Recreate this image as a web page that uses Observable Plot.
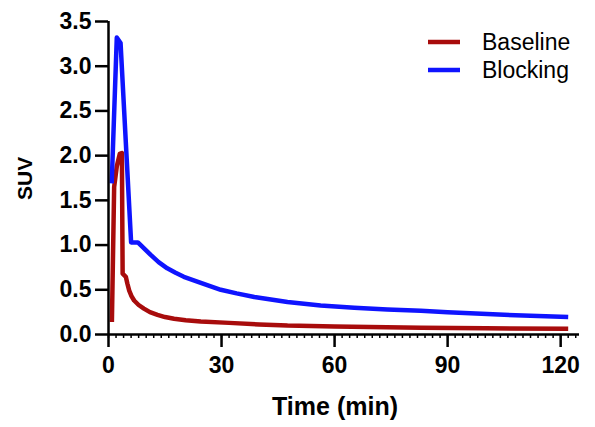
<!DOCTYPE html>
<html>
<head>
<meta charset="utf-8">
<script src="https://cdn.jsdelivr.net/npm/d3@7"></script>
<script src="https://cdn.jsdelivr.net/npm/@observablehq/plot@0.6"></script>
<style>
  html, body { margin: 0; padding: 0; background: #fff; }
  #wrap { position: relative; width: 595px; height: 427px; font-family: "Liberation Sans", Arial, sans-serif; }
  #legend { position: absolute; left: 428px; top: 28px; font-size: 23px; color: #000; }
  #legend .item { display: flex; align-items: center; height: 28px; }
  #legend svg { margin-right: 22px; }
</style>
</head>
<body>
<div id="wrap"><div id="legend"></div></div>
<script>
// Data
const seriesNames = ["Baseline", "Blocking"];
const seriesColors = ["#a80c0c", "#0f14ff"];

const baselineTime = [0.9, 1.5, 2.2, 3.0, 3.55, 3.75, 4.6, 5.0, 5.5, 6.1, 6.8, 8.0, 9.4, 11, 13, 15, 17.4, 20.5, 24.5, 32, 40, 47.5, 60, 83, 100, 122];
const baselineSUV  = [0.14, 1.65, 1.88, 2.02, 2.03, 0.68, 0.645, 0.57, 0.49, 0.43, 0.38, 0.33, 0.29, 0.25, 0.22, 0.195, 0.176, 0.16, 0.146, 0.13, 0.113, 0.10, 0.09, 0.075, 0.07, 0.064];

const blockingTime = [0.85, 2.2, 3.2, 6.0, 7.8, 9.5, 11.2, 13.3, 15.6, 17.8, 20, 24.5, 29.8, 34, 38.7, 47.5, 56.3, 65.2, 74, 82.9, 90, 105, 122];
const blockingSUV  = [1.69, 3.32, 3.26, 1.03, 1.03, 0.96, 0.89, 0.81, 0.74, 0.69, 0.645, 0.576, 0.50, 0.46, 0.42, 0.363, 0.325, 0.30, 0.28, 0.265, 0.25, 0.22, 0.195];

const xTicks = [0, 30, 60, 90, 120];
const xMinorTicks = d3.range(0, 126, 2);
const yTicks = [0, 0.5, 1.0, 1.5, 2.0, 2.5, 3.0, 3.5];

const rows = [
  ...baselineTime.map((t, i) => ({series: seriesNames[0], t, v: baselineSUV[i]})),
  ...blockingTime.map((t, i) => ({series: seriesNames[1], t, v: blockingSUV[i]}))
];

const font = "Liberation Sans, Arial, sans-serif";

const chart = Plot.plot({
  width: 595,
  height: 427,
  marginLeft: 108,
  marginRight: 16,
  marginTop: 21,
  marginBottom: 93,
  style: {fontFamily: font, background: "transparent", overflow: "visible"},
  x: {domain: [0, 125]},
  y: {domain: [0, 3.5]},
  color: {domain: seriesNames, range: seriesColors},
  marks: [
    Plot.axisX({ticks: xMinorTicks, tickSize: 4, tickFormat: () => "", stroke: "#000", strokeWidth: 1.5, label: null}),
    Plot.line(rows, {x: "t", y: "v", stroke: "series", strokeWidth: 4.5, strokeLinejoin: "round", strokeLinecap: "butt"}),
    Plot.ruleY([0], {stroke: "#000", strokeWidth: 2.5}),
    Plot.ruleX([0], {stroke: "#000", strokeWidth: 2.5}),
    Plot.axisY({ticks: yTicks, tickSize: 13, tickPadding: 4, tickFormat: d3.format(".1f"), fontSize: 23, fontWeight: "bold", stroke: "#000", strokeWidth: 2.5, label: null}),
    Plot.axisX({ticks: xTicks, tickSize: 13, tickPadding: 9, tickFormat: d3.format("d"), fontSize: 23, fontWeight: "bold", stroke: "#000", strokeWidth: 2.5, label: null}),
    Plot.text(["Time (min)"], {frameAnchor: "bottom", dx: -9, dy: 80, fontSize: 25, fontWeight: "bold", fill: "#000"}),
    Plot.text(["SUV"], {frameAnchor: "left", dx: -83, dy: 22, rotate: -90, fontSize: 21, fontWeight: "bold", fill: "#000"})
  ]
});
const wrap = document.getElementById("wrap");
wrap.insertBefore(chart, wrap.firstChild);

// Legend
const legend = d3.select("#legend");
seriesNames.forEach((name, i) => {
  const item = legend.append("div").attr("class", "item");
  const sw = item.append("svg").attr("width", 32).attr("height", 10);
  sw.append("line").attr("x1", 0).attr("x2", 32).attr("y1", 5).attr("y2", 5)
    .attr("stroke", seriesColors[i]).attr("stroke-width", 4.5);
  item.append("span").text(name);
});
</script>
</body>
</html>
